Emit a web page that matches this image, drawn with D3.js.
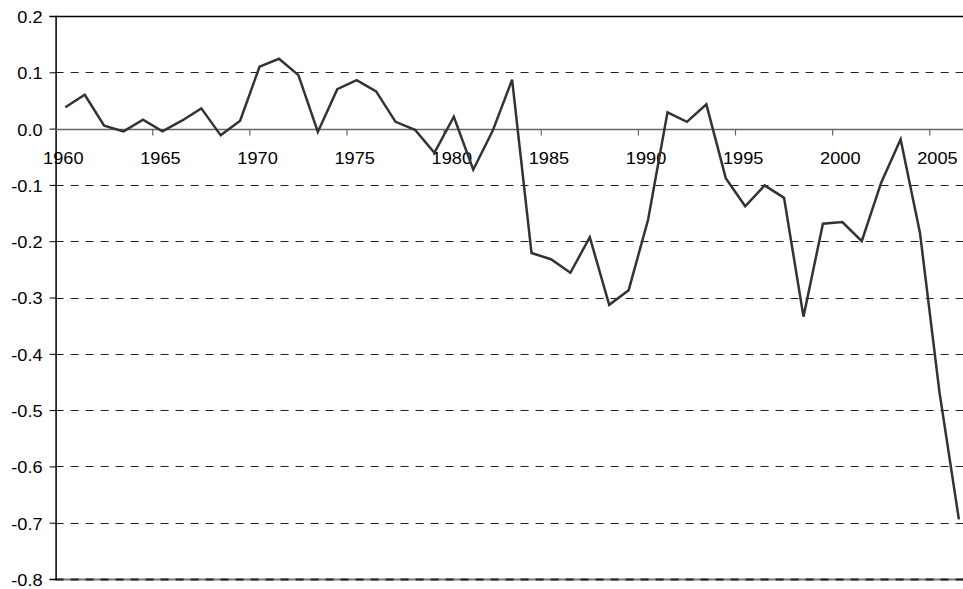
<!DOCTYPE html>
<html>
<head>
<meta charset="utf-8">
<script src="https://cdn.jsdelivr.net/npm/d3@7"></script>
<style>
  html, body { margin: 0; padding: 0; background: #fff; }
  svg { display: block; }
  text { font-family: "Liberation Sans", Arial, sans-serif; font-size: 17px; fill: #000; }
</style>
</head>
<body>
<svg id="chart" width="963" height="589"></svg>
<script>
const years = d3.range(1960, 2007);
const values = [
  0.038, 0.060, 0.005, -0.005, 0.016, -0.005, 0.014, 0.036, -0.012, 0.014,
  0.110, 0.124, 0.095, -0.006, 0.070, 0.086, 0.066, 0.012, -0.002, -0.043,
  0.021, -0.073, -0.004, 0.087, -0.221, -0.232, -0.256, -0.193, -0.313, -0.287,
  -0.162, 0.029, 0.012, 0.043, -0.088, -0.138, -0.101, -0.123, -0.334, -0.169,
  -0.166, -0.200, -0.096, -0.019, -0.186, -0.468, -0.694
];
const yTicks = [0.2, 0.1, 0.0, -0.1, -0.2, -0.3, -0.4, -0.5, -0.6, -0.7, -0.8];
const xTickLabels = [1960, 1965, 1970, 1975, 1980, 1985, 1990, 1995, 2000, 2005];

const pLeft = 55.6, pRight = 968.6, pTop = 16, pBottom = 579;
const svg = d3.select("#chart");
const x = d3.scaleBand().domain(years).range([pLeft, pRight]);
const y = d3.scaleLinear().domain([-0.8, 0.2]).range([pBottom, pTop]);
const sx = 1.07;
const fmt = v => d3.format(".1f")(v).replace("\u2212", "-");

// bottom solid border
svg.append("line")
  .attr("x1", pLeft).attr("x2", pRight)
  .attr("y1", Math.round(y(-0.8)) + 0.5).attr("y2", Math.round(y(-0.8)) + 0.5)
  .attr("stroke", "#777").attr("stroke-width", 2);

// gridlines (dashed)
svg.append("g").selectAll("line")
  .data(yTicks.filter(v => v !== 0 && v !== 0.2))
  .join("line")
  .attr("x1", pLeft).attr("x2", pRight)
  .attr("y1", d => Math.round(y(d)) + 0.5).attr("y2", d => Math.round(y(d)) + 0.5)
  .attr("stroke", "#222")
  .attr("stroke-width", d => d === -0.8 ? 2 : 1)
  .attr("stroke-dasharray", "8,7");

// top border
svg.append("line")
  .attr("x1", pLeft).attr("x2", pRight)
  .attr("y1", Math.round(y(0.2)) + 0.5).attr("y2", Math.round(y(0.2)) + 0.5)
  .attr("stroke", "#000").attr("stroke-width", 1.5);

// y axis
const yAxis = d3.axisLeft(y).tickValues(yTicks).tickSize(6).tickFormat(fmt);
const gy = svg.append("g").attr("transform", `translate(${pLeft},0)`).call(yAxis);
gy.select(".domain").attr("stroke", "#000").attr("stroke-width", 1.5);
gy.selectAll(".tick line").attr("stroke", "#000");
gy.selectAll(".tick text")
  .attr("x", null).attr("dy", null)
  .attr("text-anchor", "end")
  .attr("dominant-baseline", "middle")
  .attr("transform", `translate(-13,2) scale(${sx},1)`)
  .style("font-size", "17px").style("font-family", "'Liberation Sans', Arial, sans-serif")
  .attr("fill", "#000");

// zero line x axis
const y0 = Math.round(y(0)) + 0.5;
svg.append("line")
  .attr("x1", pLeft).attr("x2", pRight)
  .attr("y1", y0).attr("y2", y0)
  .attr("stroke", "#666").attr("stroke-width", 1.5);

// x ticks every 5 categories at band starts
svg.append("g").selectAll("line")
  .data(years.filter((yr, i) => i % 5 === 0 && i > 0))
  .join("line")
  .attr("x1", d => x(d)).attr("x2", d => x(d))
  .attr("y1", y0).attr("y2", y0 + 6)
  .attr("stroke", "#666").attr("stroke-width", 1.2);

// x labels
svg.append("g").selectAll("text")
  .data(xTickLabels)
  .join("text")
  .attr("text-anchor", "middle")
  .attr("transform", d => `translate(${x(d) + x.bandwidth() / 2 - 2},${y0 + 34}) scale(${sx},1)`)
  .text(d => d);

// data line
const line = d3.line()
  .x((d, i) => x(years[i]) + x.bandwidth() / 2)
  .y(d => y(d));
svg.append("path")
  .datum(values)
  .attr("d", line)
  .attr("fill", "none")
  .attr("stroke", "#333")
  .attr("stroke-width", 2.5)
  .attr("stroke-linejoin", "miter");
</script>
</body>
</html>
